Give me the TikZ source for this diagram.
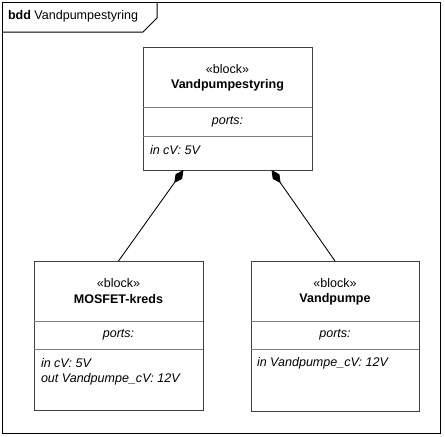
\documentclass[tikz,border=0pt]{standalone}
\usepackage{fontspec}
\setmainfont{Liberation Sans}
\usetikzlibrary{arrows.meta,calc}
\definecolor{edge}{HTML}{404040}
\definecolor{divc}{HTML}{808080}
\tikzset{
  blk/.style={draw=edge, line width=0.75pt, fill=white, inner sep=0pt, outer sep=0pt},
  divider/.style={draw=divc, line width=0.75pt},
  frm/.style={draw=black, line width=0.75pt},
  txt/.style={inner sep=0pt, outer sep=0pt, font=\fontsize{9.4pt}{11pt}\selectfont, text=black},
  bname/.style={txt, font=\fontsize{9.4pt}{11pt}\selectfont\bfseries},
  comp/.style={draw=black, line width=0.65pt, -{Diamond[length=12pt,width=6pt,fill=black]}}
}
\begin{document}
\begin{tikzpicture}[x=0.75pt, y=-0.75pt]
\useasboundingbox (0,0) rectangle (445,436);
% frame
\draw[frm] (2,2) rectangle (440,433);
\coordinate (fa) at (2,32);
\coordinate (fb) at (143,32);
\coordinate (fc) at (157,18);
\coordinate (fd) at (157,2);
\draw[frm] (fa) -- (fb) -- (fc) -- (fd);
\node[txt, anchor=west] (flabel) at (8,16) {\textbf{bdd} Vandpumpestyring};

% top block
\node[blk, minimum width=126.75pt, minimum height=92.25pt] (top) at (227.5,108.5) {};
\draw[divider] (143,107) -- (312,107);
\draw[divider] (143,136) -- (312,136);
\node[txt] (tst) at (227.5,69) {«block»};
\node[bname] (tname) at (227.5,85) {Vandpumpestyring};
\node[txt] (tports) at (227.5,122) {\itshape ports:};
\node[txt, anchor=west] (tp1) at (150,150) {\itshape in cV: 5V};

% MOSFET block
\node[blk, minimum width=126.75pt, minimum height=111.75pt] (mos) at (118.5,335.5) {};
\draw[divider] (34,321) -- (203,321);
\draw[divider] (34,349) -- (203,349);
\node[txt] (mst) at (118.5,283) {«block»};
\node[bname] (mname) at (118.5,299) {MOSFET-kreds};
\node[txt] (mports) at (118.5,335) {\itshape ports:};
\node[txt, anchor=west] (mp1) at (41,363) {\itshape in cV: 5V};
\node[txt, anchor=west] (mp2) at (41,379) {\itshape out Vandpumpe\_cV: 12V};

% Vandpumpe block
\node[blk, minimum width=126pt, minimum height=112.5pt] (pump) at (335,336) {};
\draw[divider] (251,321) -- (419,321);
\draw[divider] (251,349) -- (419,349);
\node[txt] (pst) at (335,283) {«block»};
\node[bname] (pname) at (335,299) {Vandpumpe};
\node[txt] (pports) at (335,335) {\itshape ports:};
\node[txt, anchor=west] (pp1) at (257,363) {\itshape in Vandpumpe\_cV: 12V};

% composition connectors
\draw[comp] (mos.north) -- ($(top.south)+(-44,0)$);
\draw[comp] (pump.north) -- ($(top.south)+(44,0)$);
\end{tikzpicture}
\end{document}
